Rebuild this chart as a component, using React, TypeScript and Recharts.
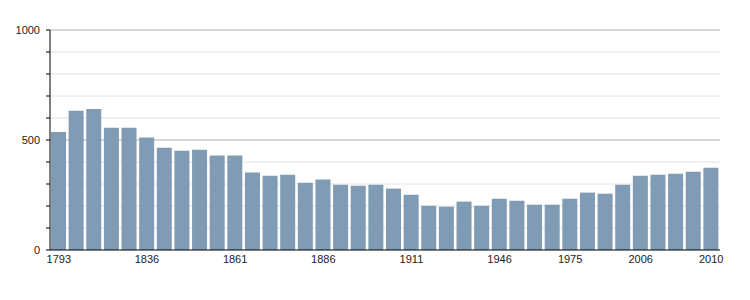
import { BarChart, Bar, XAxis, YAxis, CartesianGrid } from "recharts";

const years = [
  "1793", "1800", "1806", "1821", "1831", "1836", "1841", "1846", "1851", "1856",
  "1861", "1866", "1872", "1876", "1881", "1886", "1891", "1896", "1901", "1906",
  "1911", "1921", "1926", "1931", "1936", "1946", "1954", "1962", "1968", "1975",
  "1982", "1990", "1999", "2006", "2007", "2008", "2009", "2010",
];

const population = [
  536, 633, 641, 556, 556, 511, 465, 451, 456, 429,
  429, 352, 338, 342, 306, 320, 297, 292, 297, 279,
  251, 201, 197, 220, 201, 233, 224, 206, 206, 233,
  261, 256, 297, 338, 342, 347, 356, 374,
];

const shownYears = ["1793", "1836", "1861", "1886", "1911", "1946", "1975", "2006", "2010"];
const yTicks = [0, 100, 200, 300, 400, 500, 600, 700, 800, 900, 1000];
const minorLines = [100, 200, 300, 400, 600, 700, 800, 900];
const majorLines = [500, 1000];

const data = years.map((year, i) => ({ year, value: population[i] }));

const font = { fill: "#222", fontSize: 11, fontFamily: "Liberation Sans, Arial, sans-serif" };

export default function App() {
  return (
    <BarChart
      width={742}
      height={284}
      data={data}
      margin={{ top: 22, right: 30, bottom: 12, left: 0 }}
      barSize={15}
    >
      <CartesianGrid vertical={false} stroke="#e2e2e2" horizontalValues={minorLines} />
      <CartesianGrid vertical={false} stroke="#b0b0b0" horizontalValues={majorLines} />
      <XAxis
        dataKey="year"
        interval={0}
        tickLine={false}
        tickSize={4}
        tickMargin={1}
        height={30}
        axisLine={{ stroke: "#000" }}
        tick={font}
        tickFormatter={(v) => (shownYears.includes(v) ? v : "")}
      />
      <YAxis
        width={42}
        domain={[0, 1000]}
        ticks={yTicks}
        interval={0}
        tickSize={4}
        tickMargin={6}
        axisLine={{ stroke: "#000" }}
        tickLine={{ stroke: "#000" }}
        tick={font}
        tickFormatter={(v) => (v % 500 === 0 ? String(v) : "")}
      />
      <Bar dataKey="value" fill="#809bb4" isAnimationActive={false} />
    </BarChart>
  );
}
